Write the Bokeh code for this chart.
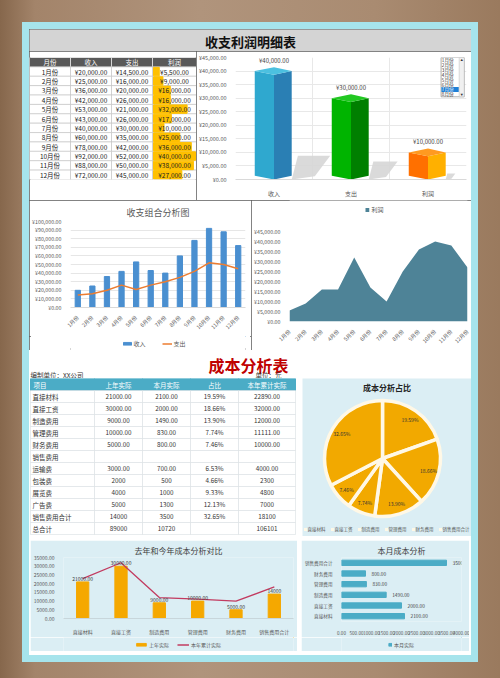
import math
from bokeh.plotting import figure
from bokeh.layouts import column, row
from bokeh.models import Range1d, FactorRange, FixedTicker, Legend, LegendItem, ColumnDataSource
from bokeh.core.properties import value
from bokeh.embed import file_html
from bokeh.resources import INLINE

FONT = "Noto Sans CJK SC"
F = value(FONT)

# ---------------- data ----------------
main_title = "收支利润明细表"
table_headers = ["月份", "收入", "支出", "利润"]
months = ["1月份", "2月份", "3月份", "4月份", "5月份", "6月份", "7月份", "8月份",
          "9月份", "10月份", "11月份", "12月份"]
income = [20000, 25000, 36000, 42000, 53000, 43000, 40000, 60000, 78000, 92000, 88000, 72000]
expense = [14500, 16000, 20000, 26000, 21000, 26000, 30000, 35000, 42000, 52000, 50000, 45000]
profit = [5500, 9000, 16000, 16000, 32000, 17000, 10000, 25000, 36000, 40000, 38000, 27000]
selected_month = "7月份"
bar3d_categories = ["收入", "支出", "利润"]
bar3d_ticks = [0, 5000, 10000, 15000, 20000, 25000, 30000, 35000, 40000, 45000]
combo_title = "收支组合分析图"
combo_ticks = [0, 10000, 20000, 30000, 40000, 50000, 60000, 70000, 80000, 90000, 100000]
combo_legend = ["收入", "支出"]
area_legend = "利润"
area_ticks = [0, 5000, 10000, 15000, 20000, 25000, 30000, 35000, 40000, 45000]

cost_title = "成本分析表"
cost_unit_left = "编制单位：XX公司"
cost_unit_right = "单位：元"
cost_headers = ["项目", "上年实际", "本月实际", "占比", "本年累计实际"]
cost_items = ["直接材料", "直接工资", "制造费用", "管理费用", "财务费用", "销售费用",
              "运输费", "包装费", "展览费", "广告费", "销售费用合计", "总合计"]
cost_last_year = ["21000.00", "30000.00", "9000.00", "10000.00", "5000.00", "",
                  "3000.00", "2000", "4000", "5000", "14000", "89000"]
cost_this_month = ["2100.00", "2000.00", "1490.00", "830.00", "800.00", "",
                   "700.00", "500", "1000", "1300", "3500", "10720"]
cost_share = ["19.59%", "18.66%", "13.90%", "7.74%", "7.46%", "",
              "6.53%", "4.66%", "9.33%", "12.13%", "32.65%", ""]
cost_ytd = ["22890.00", "32000.00", "12000.00", "11111.00", "10000.00", "",
            "4000.00", "2300", "4800", "7000", "18100", "106101"]
pie_title = "成本分析占比"
summary_items = ["直接材料", "直接工资", "制造费用", "管理费用", "财务费用", "销售费用合计"]
compare_title = "去年和今年成本分析对比"
compare_legend = ["上年实际", "本年累计实际"]
compare_ticks = [0, 5000, 10000, 15000, 20000, 25000, 30000, 35000]
month_cost_title = "本月成本分析"
month_cost_legend = "本月实际"
month_cost_ticks = [0, 500, 1000, 1500, 2000, 2500, 3000, 3500, 4000]

# ---------------- styles ----------------
BORDER = {"outline": "1px solid #5a5a5a", "outline-offset": "-1px"}
LIGHT = "#dbeef4"
C_INC, C_EXP, C_AREA = "#4a8fd0", "#ed7d31", "#4e8397"
C_LY, C_YTD, C_HB = "#f5a800", "#c23b60", "#4bacc6"


def money(v):
    return f"¥{v:,.2f}"


def blank(w, h, xr, yr, bg="white", **kw):
    p = figure(width=w, height=h, x_range=xr, y_range=yr, output_backend="svg",
               toolbar_location=None, x_axis_location=None, y_axis_location=None,
               min_border=0, **kw)
    p.grid.visible = False
    p.background_fill_color = bg
    p.border_fill_color = bg
    p.outline_line_color = None
    return p


def chart(w, h, bg="white", **kw):
    p = figure(width=w, height=h, output_backend="svg", toolbar_location=None, **kw)
    p.background_fill_color = bg
    p.border_fill_color = bg
    p.outline_line_color = None
    return p


def style_axes(p, size="5.5px", color="#595959"):
    for ax in p.axis:
        ax.major_label_text_font = FONT
        ax.major_label_text_font_size = size
        ax.major_label_text_color = color
        ax.axis_line_color = None
        ax.major_tick_line_color = None
        ax.minor_tick_line_color = None
        ax.major_label_standoff = 3


def make_legend(items, loc, size="6px", gw=10, gh=4, spacing=8, standoff=2):
    lg = Legend(items=items, orientation="horizontal", location=loc)
    lg.label_text_font = FONT
    lg.label_text_font_size = size
    lg.label_text_color = "#595959"
    lg.glyph_width = gw
    lg.glyph_height = gh
    lg.label_height = 6
    lg.label_standoff = standoff
    lg.spacing = spacing
    lg.padding = 0
    lg.margin = 0
    lg.border_line_color = None
    lg.background_fill_alpha = 0
    return lg


def legend_strip(w, h, entries, bg="white", size="6px", gw=10, gh=4, spacing=8):
    """A thin figure holding only a legend; its key renderers sit outside the visible range."""
    p = blank(w, h, Range1d(0, 1), Range1d(0, 1), bg=bg)
    items = []
    for label, kind, color in entries:
        if kind == "bar":
            r = p.vbar(x=[5], top=[5], bottom=[4], width=0.1, color=color)
        else:
            r = p.line(x=[5, 6], y=[5, 5], color=color, line_width=1.5)
        items.append((label, [r]))
    p.add_layout(make_legend(items, "center", size=size, gw=gw, gh=gh, spacing=spacing))
    return p


def set_title(p, text, size="9px", color="#595959", bold=False, standoff=8):
    p.title.text = text
    p.title.align = "center"
    p.title.text_font = FONT
    p.title.text_font_size = size
    p.title.text_color = color
    p.title.text_font_style = "bold" if bold else "normal"
    p.title.standoff = standoff


# ---------------- top title ----------------
p_title = blank(442, 22, Range1d(0, 1), Range1d(0, 1), bg="#d4d4d4", styles=BORDER)
p_title.text(x=[0.5], y=[0.45], text=[main_title], text_align="center", text_baseline="middle",
             text_font=F, text_font_size="13px", text_font_style="bold", text_color="#111111")

# ---------------- top table ----------------
TW, TH = 167, 149
tcol = [0, 41, 82, 123, 167]
tcent = [(tcol[j] + tcol[j + 1]) / 2 for j in range(4)]
twid = [tcol[j + 1] - tcol[j] for j in range(4)]
p_tab = blank(TW, TH, Range1d(0, TW), Range1d(13, 0), styles=BORDER)
p_tab.rect(x=tcent, y=[0.5] * 4, width=twid, height=1, fill_color="#595959",
           line_color="#ffffff", line_width=0.6)
p_tab.text(x=tcent, y=[0.5] * 4, text=table_headers, text_align="center", text_baseline="middle",
           text_font=F, text_font_size="6.5px", text_color="white")
cx, cy, cw = [], [], []
for r in range(12):
    for j in range(4):
        cx.append(tcent[j]); cy.append(r + 1.5); cw.append(twid[j])
p_tab.rect(x=cx, y=cy, width=cw, height=1, fill_color="white", line_color="#bfbfbf", line_width=0.6)
pmax = max(profit)
p_tab.hbar(y=[r + 1.5 for r in range(12)], left=tcol[3] + 1,
           right=[tcol[3] + 1 + v / pmax * (twid[3] - 2) for v in profit],
           height=0.9, color="#ffc000")
cols_text = [months, [money(v) for v in income], [money(v) for v in expense], [money(v) for v in profit]]
for j in range(4):
    p_tab.text(x=[tcent[j]] * 12, y=[r + 1.5 for r in range(12)], text=cols_text[j],
               text_align="center", text_baseline="middle", text_font=F,
               text_font_size="6.5px", text_color="#222222")

# ---------------- 3D bar chart ----------------
sel = months.index(selected_month)
sel_vals = [income[sel], expense[sel], profit[sel]]
p_3d = chart(275, 149, x_range=Range1d(-0.5, 2.5), y_range=Range1d(0, 45000),
             min_border_left=4, min_border_right=5, min_border_top=6, min_border_bottom=2,
             styles=BORDER)
style_axes(p_3d, size="5.5px")
p_3d.yaxis.ticker = FixedTicker(ticks=bar3d_ticks)
p_3d.yaxis.major_label_overrides = {t: money(t) for t in bar3d_ticks}
p_3d.xaxis.ticker = FixedTicker(ticks=[0, 1, 2])
p_3d.xaxis.major_label_overrides = {i: c for i, c in enumerate(bar3d_categories)}
p_3d.xaxis.major_label_text_font_size = "6px"
p_3d.xaxis.axis_line_color = "#d9d9d9"
p_3d.xgrid.ticker = FixedTicker(ticks=[0.5, 1.5])
p_3d.xgrid.grid_line_color = "#e8e8e8"
p_3d.ygrid.grid_line_color = "#e8e8e8"
WL, WR, D = 0.25, 0.23, 1400
face_cols = [("#2fa8cf", "#2a7fb4", "#4cc0e0"),
             ("#00b400", "#007f00", "#22c822"),
             ("#ff7000", "#ffb000", "#ff9a20")]
sh_x, sh_y, lx, ly, rx, ry, tx, ty = [], [], [], [], [], [], [], []
for i, v in enumerate(sel_vals):
    k = v / max(sel_vals)
    sh_x.append([i + WR, i + WR + 0.08 * k, i + WR + 0.5 * k, i + WR + 0.3 * k])
    sh_y.append([0, 0.22 * v, 0.22 * v, 0.03 * v])
    lx.append([i - WL, i, i, i - WL]); ly.append([D, 0, v - D, v])
    rx.append([i, i + WR, i + WR, i]); ry.append([0, D, v, v - D])
    tx.append([i - WL, i, i + WR, i]); ty.append([v, v - D, v, v + D])
p_3d.patches(xs=sh_x, ys=sh_y, fill_color="#d6d6d6", line_color=None, fill_alpha=0.9)
p_3d.patches(xs=lx, ys=ly, fill_color=[c[0] for c in face_cols], line_color=None)
p_3d.patches(xs=rx, ys=ry, fill_color=[c[1] for c in face_cols], line_color=None)
p_3d.patches(xs=tx, ys=ty, fill_color=[c[2] for c in face_cols], line_color=None)
p_3d.text(x=[0, 1, 2], y=[v + D + 2600 for v in sel_vals], text=[money(v) for v in sel_vals],
          text_align="center", text_baseline="middle", text_font=F, text_font_size="6px",
          text_color="#404040")
# month list box (selector)
LB_L, LB_R, LB_T, LB_B = 2.17, 2.47, 45000, 30500
n_items = 8
step = (LB_T - LB_B) / n_items
p_3d.quad(left=LB_L, right=LB_R, bottom=LB_B, top=LB_T, fill_color="white", line_color="#8a8a8a",
          line_width=0.7)
p_3d.quad(left=LB_L + 0.005, right=LB_R - 0.07, bottom=LB_T - (sel + 1) * step, top=LB_T - sel * step,
          fill_color="#1e7fd6", line_color=None)
p_3d.quad(left=LB_R - 0.065, right=LB_R, bottom=LB_B, top=LB_T, fill_color="#f0f0f0",
          line_color="#bdbdbd", line_width=0.5)
p_3d.text(x=[LB_L + 0.01] * n_items, y=[LB_T - (i + 0.5) * step for i in range(n_items)],
          text=months[:n_items], text_baseline="middle", text_font=F, text_font_size="4.6px",
          text_color=["white" if i == sel else "#333333" for i in range(n_items)])
p_3d.text(x=[LB_R - 0.033] * 2, y=[LB_T - step * 0.5, LB_B + step * 0.5], text=["▲", "▼"],
          text_align="center", text_baseline="middle", text_font_size="4px", text_color="#333333")

# ---------------- combo chart ----------------
p_combo = chart(222, 136, x_range=FactorRange(*months), y_range=Range1d(0, 100000),
                min_border_left=4, min_border_right=6, min_border_top=2, min_border_bottom=2)
set_title(p_combo, combo_title, size="9px", standoff=6)
style_axes(p_combo, size="5.3px")
p_combo.yaxis.ticker = FixedTicker(ticks=combo_ticks)
p_combo.yaxis.major_label_overrides = {t: money(t) for t in combo_ticks}
p_combo.xaxis.major_label_orientation = math.pi / 4
p_combo.xaxis.axis_line_color = "#d9d9d9"
p_combo.xgrid.grid_line_color = None
p_combo.ygrid.grid_line_color = "#e6e6e6"
p_combo.vbar(x=months, top=income, width=0.36, color=C_INC)
p_combo.line(x=months, y=expense, color=C_EXP, line_width=1.5)
leg_combo = legend_strip(222, 14, [(combo_legend[0], "bar", C_INC), (combo_legend[1], "line", C_EXP)],
                         size="6px")
combo_box = column(p_combo, leg_combo, spacing=0, styles=BORDER)

# ---------------- area chart ----------------
idx = list(range(len(months)))
p_area = chart(220, 150, x_range=Range1d(0, 11), y_range=Range1d(0, 60500),
               min_border_left=4, min_border_right=4, min_border_top=0, min_border_bottom=4,
               styles=BORDER)
style_axes(p_area, size="5.3px")
p_area.yaxis.ticker = FixedTicker(ticks=area_ticks)
p_area.yaxis.major_label_overrides = {t: money(t) for t in area_ticks}
p_area.xaxis.ticker = FixedTicker(ticks=idx)
p_area.xaxis.major_label_overrides = {i: m for i, m in zip(idx, months)}
p_area.xaxis.major_label_orientation = math.pi / 4
p_area.grid.grid_line_color = None
r_area = p_area.varea(x=idx, y1=0, y2=profit, color=C_AREA)
lg_area = make_legend([(area_legend, [r_area])], "top_center", size="6px", gw=5, gh=5)
lg_area.margin = 5
p_area.add_layout(lg_area)

# ---------------- cost title ----------------
p_ct = blank(442, 28, Range1d(0, 442), Range1d(0, 28))
p_ct.text(x=[219], y=[14], text=[cost_title], text_align="center", text_baseline="middle",
          text_font=F, text_font_size="16px", text_font_style="bold", text_color="#c00000")
p_ct.text(x=[1, 226], y=[4, 4], text=[cost_unit_left, cost_unit_right], text_baseline="middle",
          text_font=F, text_font_size="6.5px", text_color="#333333")

# ---------------- cost table ----------------
ccol = [1, 65, 113, 161, 209, 266]
ccent = [(ccol[j] + ccol[j + 1]) / 2 for j in range(5)]
cwid = [ccol[j + 1] - ccol[j] for j in range(5)]
p_cost = blank(270, 160, Range1d(0, 270), Range1d(160 / 12, 0))
p_cost.rect(x=ccent, y=[0.5] * 5, width=cwid, height=1, fill_color="#4bacc6", line_color="#4bacc6")
p_cost.text(x=[ccol[0] + 3] + ccent[1:], y=[0.5] * 5, text=cost_headers,
            text_align=["left", "center", "center", "center", "center"], text_baseline="middle",
            text_font=F, text_font_size="6.5px", text_color="white")
nr = len(cost_items)
bx, by, bw = [], [], []
for r in range(nr):
    for j in range(5):
        bx.append(ccent[j]); by.append(r + 1.5); bw.append(cwid[j])
p_cost.rect(x=bx, y=by, width=bw, height=1, fill_color="white", line_color="#d9dfe2", line_width=0.6)
ry_ = [r + 1.5 for r in range(nr)]
p_cost.text(x=[ccol[0] + 2] * nr, y=ry_, text=cost_items, text_baseline="middle",
            text_font=F, text_font_size="6.5px", text_color="#333333")
for j, colv in enumerate([cost_last_year, cost_this_month, cost_share, cost_ytd]):
    p_cost.text(x=[ccent[j + 1]] * nr, y=ry_, text=colv, text_align="center", text_baseline="middle",
                text_font=F, text_font_size="6.3px", text_color="#333333")

# ---------------- pie ----------------
sidx = [cost_items.index(n) for n in summary_items]
shares = [float(cost_share[i].rstrip("%")) for i in sidx]
tot = sum(shares)
PW, PH = 169, 158
PCX, PCY, PR = 80, 78, 58
starts, ends, labx, laby = [], [], [], []
acc = 0.0
for s in shares:
    a0 = math.pi / 2 - acc / tot * 2 * math.pi
    acc += s
    a1 = math.pi / 2 - acc / tot * 2 * math.pi
    starts.append(a0); ends.append(a1)
    mid = (a0 + a1) / 2
    labx.append(PCX + 0.82 * PR * math.cos(mid))
    laby.append(PCY + 0.82 * PR * math.sin(mid))
p_pie = blank(PW, PH, Range1d(0, PW), Range1d(0, PH), bg=LIGHT, margin=(0, 0, 2, 3))
psrc = ColumnDataSource(dict(start=starts, end=ends, lab=summary_items,
                             lx=labx, ly=laby, pct=[cost_share[i] for i in sidx]))
r_pie = p_pie.wedge(x=PCX, y=PCY, radius=PR, start_angle="start", end_angle="end", direction="clock",
                    fill_color="#f2a900", line_color="#fff8e6", line_width=3.5, source=psrc)
p_pie.text(x="lx", y="ly", text="pct", source=psrc, text_align="center", text_baseline="middle",
           text_font=F, text_font_size="5px", text_color="#333333")
p_pie.text(x=[PW / 2], y=[PH - 9], text=[pie_title], text_align="center", text_baseline="middle",
           text_font=F, text_font_size="8px", text_font_style="bold", text_color="#222222")
lg3 = make_legend([LegendItem(label=summary_items[i], renderers=[r_pie], index=i) for i in range(6)],
                  "bottom_center", size="4.5px", gw=3, gh=3, spacing=3, standoff=1)
lg3.margin = 4
p_pie.add_layout(lg3)

# ---------------- compare combo ----------------
ly_vals = [float(cost_last_year[i]) for i in sidx]
ytd_vals = [float(cost_ytd[i]) for i in sidx]
p_cmp = chart(267, 97, bg=LIGHT, x_range=FactorRange(*summary_items), y_range=Range1d(0, 35000),
              min_border_left=3, min_border_right=4, min_border_top=0, min_border_bottom=2)
set_title(p_cmp, compare_title, size="8px", color="#404040", standoff=4)
style_axes(p_cmp, size="5px")
p_cmp.yaxis.ticker = FixedTicker(ticks=compare_ticks)
p_cmp.yaxis.major_label_overrides = {t: f"{t:.2f}" for t in compare_ticks}
p_cmp.xaxis.axis_line_color = "#c8d6db"
p_cmp.grid.grid_line_color = None
p_cmp.vbar(x=summary_items, top=ly_vals, width=0.32, color=C_LY)
p_cmp.line(x=summary_items, y=ytd_vals, color=C_YTD, line_width=1.3)
p_cmp.text(x=summary_items, y=[v + 700 for v in ly_vals], text=[cost_last_year[i] for i in sidx],
           text_align="center", text_baseline="bottom", text_font=F, text_font_size="5px",
           text_color="#404040")
leg_cmp = legend_strip(267, 14, [(compare_legend[0], "bar", C_LY), (compare_legend[1], "line", C_YTD)],
                       bg=LIGHT, size="5px", gw=12, gh=4)
cmp_box = column(p_cmp, leg_cmp, spacing=0, margin=(2, 2, 4, 1))

# ---------------- month cost hbar ----------------
m_vals = [float(cost_this_month[i]) for i in sidx]
p_hb = chart(168, 97, bg=LIGHT, y_range=FactorRange(*summary_items), x_range=Range1d(0, 4000),
             min_border_left=3, min_border_right=8, min_border_top=0, min_border_bottom=2)
set_title(p_hb, month_cost_title, size="8px", color="#404040", standoff=4)
style_axes(p_hb, size="4.6px")
p_hb.xaxis.ticker = FixedTicker(ticks=month_cost_ticks)
p_hb.xaxis.major_label_overrides = {t: f"{t:.2f}" for t in month_cost_ticks}
p_hb.grid.grid_line_color = None
p_hb.hbar(y=summary_items, right=m_vals, height=0.5, color=C_HB)
p_hb.text(x=m_vals, y=summary_items, text=[cost_this_month[i] for i in sidx], x_offset=6,
          text_baseline="middle", text_font=F, text_font_size="4.8px", text_color="#404040")
leg_hb = legend_strip(168, 14, [(month_cost_legend, "bar", C_HB)], bg=LIGHT, size="5px", gw=4, gh=4)
hb_box = column(p_hb, leg_hb, spacing=0, margin=(2, 2, 4, 2))

# ---------------- layout ----------------
top = column(p_title, row(p_tab, p_3d, spacing=0), row(combo_box, p_area, spacing=0), spacing=0,
             styles={"outline": "2px solid #5a5a5a", "outline-offset": "-2px"})
bottom = column(p_ct, row(p_cost, p_pie, spacing=0), row(cmp_box, hb_box, spacing=0), spacing=0)
inner = column(top, bottom, spacing=0, margin=(7, 7, 7, 7), styles={"background-color": "white"})
frame = column(inner, spacing=0, margin=(22, 22, 0, 22), styles={"background-color": "#a6e4ec"})
root = column(frame, spacing=0, width=500, height=678,
              styles={"background": "linear-gradient(90deg,#86674c 0%,#a3846a 7%,#b0947c 40%,#a98b71 75%,#9a7a5e 100%)"})

open("out.html", "w").write(file_html(root, INLINE))
